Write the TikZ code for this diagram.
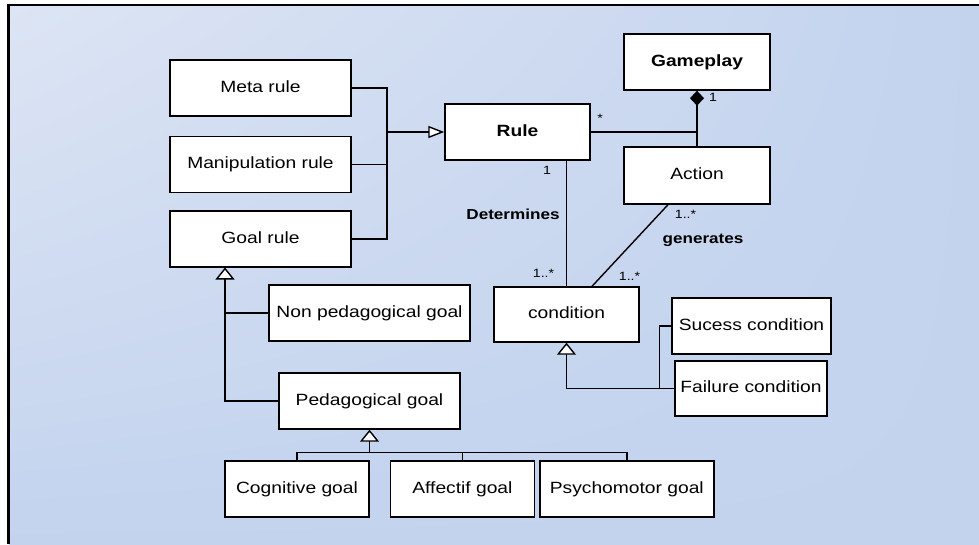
\documentclass[tikz,border=0pt]{standalone}
\usepackage{fontspec}
\setmainfont{Liberation Sans}[FakeStretch=1.18]
\usetikzlibrary{arrows.meta,positioning,calc,shadings}

\definecolor{bgLight}{HTML}{DDE5F4}
\definecolor{bgDark}{HTML}{C3D3EE}

\begin{document}
\begin{tikzpicture}[x=1pt, y=-1pt,
  cls/.style={draw, fill=white, line width=1.4pt, inner sep=0pt,
    minimum height=56pt, text height=12pt, text depth=3.5pt,
    font=\fontsize{16.3}{18}\selectfont},
  mult/.style={font=\fontsize{12}{13}\selectfont, inner sep=0pt},
  role/.style={font=\fontsize{14.5}{16}\selectfont\bfseries, inner sep=0pt},
  link/.style={line width=1.4pt},
  gen/.style={link, -{Triangle[fill=white, width=19pt, length=12pt]}},
  genh/.style={link, -{Triangle[fill=white, width=12pt, length=16pt]}},
  comp/.style={link, {Diamond[width=14pt, length=15pt]}-}
]
  \useasboundingbox (0,0) rectangle (979,544);
  \fill[white] (0,0) rectangle (979,544);
  \shade[upper left=bgLight, upper right=bgDark, lower left=bgDark,
    lower right=bgDark] (8.5,5) rectangle (979,544);
  \draw[line width=2.4pt] (979,5) -| (8.5,544);

  \node[cls, minimum width=181pt] (meta) at (260.5,88) {Meta rule};
  \node[cls, minimum width=181pt, below=19pt of meta] (manip) {Manipulation rule};
  \node[cls, minimum width=181pt, below=17pt of manip] (goalr) {Goal rule};
  \node[cls, minimum width=145pt] (rule) at (517.5,132) {\textbf{Rule}};
  \node[cls, minimum width=146pt] (game) at (697,62) {\textbf{Gameplay}};
  \node[cls, minimum width=146pt, minimum height=57pt] (act) at (697,175.5) {Action};
  \node[cls, minimum width=145pt, minimum height=55pt] (cond) at (566.5,314.5) {condition};
  \node[cls, minimum width=159pt] (succ) at (751.5,326) {Sucess condition};
  \node[cls, minimum width=152pt, minimum height=55pt] (fail) at (751,388.5) {Failure condition};
  \node[cls, minimum width=201pt] (nonped) at (369.5,313) {Non pedagogical goal};
  \node[cls, minimum width=181pt] (ped) at (369.5,401) {Pedagogical goal};
  \node[cls, minimum width=144pt] (cog) at (297,489) {Cognitive goal};
  \node[cls, minimum width=144pt, right=20pt of cog] (aff) {Affectif goal};
  \node[cls, minimum width=174pt, right=4pt of aff] (psy) {Psychomotor goal};

  \coordinate (bus) at (387,132);
  \draw[link] (meta.east) -| (bus) |- (goalr.east);
  \draw[link] (manip.east) -- (manip.east -| bus);
  \draw[genh] (bus) -- (rule.west);

  \draw[comp] (game.south) -- (act.north);
  \draw[link] (rule.east) -- (rule.east -| act.north);
  \node[mult] (rstar) at (600,118.5) {*};
  \node[mult] (gone) at (713,97) {1};

  \draw[link] (cond.north) -- (cond.north |- rule.south);
  \node[mult] (rone) at (547,170) {1};
  \node[role] (det) at (513,214) {Determines};
  \node[mult] (cmany) at (543.5,273) {1..*};

  \draw[link] ($(act.south)+(-29,0)$) -- ($(cond.north)+(25.5,0)$);
  \node[mult] (amany) at (685.5,214.5) {1..*};
  \node[role] (gens) at (703,240) {generates};
  \node[mult] (cmany2) at (629.5,276) {1..*};

  \coordinate (cbus) at ($(fail.west)+(-15,0)$);
  \draw[gen] (fail.west) -| (cond.south);
  \draw[link] (succ.west) -| (cbus);

  \coordinate (gtop) at ($(goalr.south)+(-35.5,0)$);
  \draw[gen] (ped.west) -| (gtop);
  \draw[link] (nonped.west) -- (nonped.west -| gtop);

  \coordinate (pbus) at ($(ped.south)+(0,23)$);
  \draw[link] (cog.north) |- (pbus) -| (psy.north);
  \draw[link] (aff.north) -- (aff.north |- pbus);
  \draw[gen] (pbus) -- (ped.south);
\end{tikzpicture}
\end{document}
